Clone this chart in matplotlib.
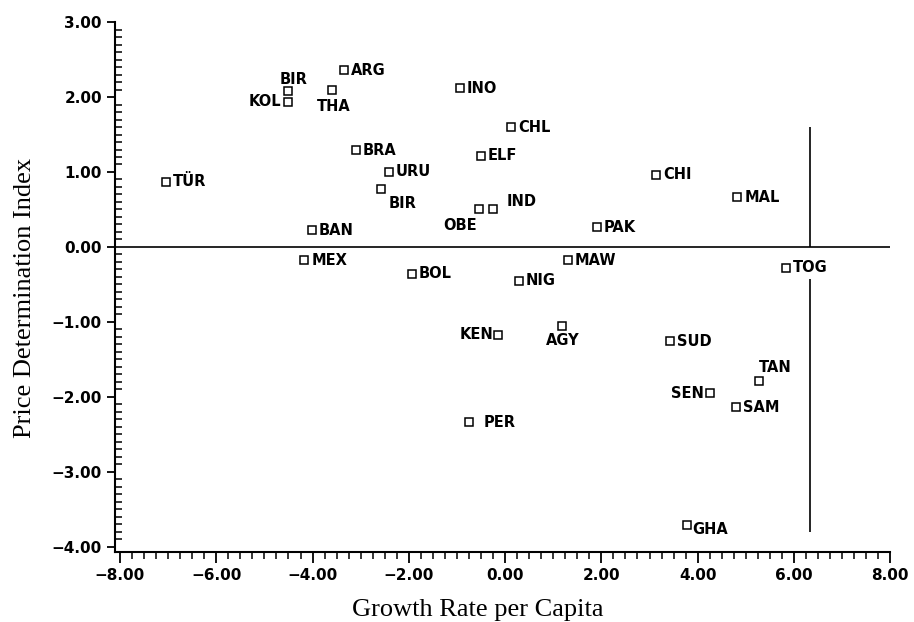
import matplotlib.pyplot as plt
from matplotlib.ticker import MultipleLocator, FuncFormatter

# Laender (Kuerzel) und ihre Werte
countries = ['TÜR', 'KOL', 'BIR', 'THA', 'ARG', 'INO', 'CHL', 'BRA', 'ELF', 'URU',
             'BIR', 'OBE', 'IND', 'BAN', 'CHI', 'MAL', 'PAK', 'MAW', 'NIG', 'TOG',
             'MEX', 'BOL', 'KEN', 'PER', 'AGY', 'SUD', 'TAN', 'SEN', 'SAM', 'GHA']
growth = [-7.05, -4.52, -4.52, -3.59, -3.34, -0.94, 0.12, -3.10, -0.50, -2.42,
          -2.58, -0.55, -0.26, -4.01, 3.13, 4.82, 1.91, 1.30, 0.29, 5.84,
          -4.17, -1.94, -0.14, -0.75, 1.19, 3.42, 5.27, 4.26, 4.80, 3.78]
price_index = [0.87, 1.94, 2.08, 2.09, 2.36, 2.12, 1.60, 1.29, 1.22, 1.00,
               0.77, 0.50, 0.50, 0.22, 0.96, 0.66, 0.26, -0.18, -0.45, -0.28,
               -0.18, -0.36, -1.17, -2.34, -1.06, -1.26, -1.79, -1.95, -2.14, -3.71]

# Trennlinie rechts
split_x = 6.33
split_top = 1.60
split_bottom = -3.80

# Beschriftungsposition (Versatz in Pixel, Ausrichtung) fuer Sonderfaelle
default_place = (7, 0, 'left')
place = {
    1: (-6, 0, 'right'),     # KOL
    2: (-8, 12, 'left'),     # BIR oben
    3: (1, -16, 'center'),   # THA
    10: (8, -14, 'left'),    # BIR unten
    11: (-2, -16, 'right'),  # OBE
    12: (14, 8, 'left'),     # IND
    22: (-5, 0, 'right'),    # KEN
    23: (15, 0, 'left'),     # PER
    24: (0, -14, 'center'),  # AGY
    26: (0, 14, 'left'),     # TAN
    27: (-6, 0, 'right'),    # SEN
    29: (5, -4, 'left'),     # GHA
}


def fmt(v, pos):
    return f'{v:.2f}'.replace('-', '\u2212')


fig = plt.figure(figsize=(9.14, 6.22), dpi=100)
ax = fig.add_axes([0.126, 0.1125, 0.848, 0.852])

ax.plot(growth, price_index, linestyle='none', marker='s', markersize=5.5,
        markerfacecolor='white', markeredgecolor='black', markeredgewidth=1.1)

for i, name in enumerate(countries):
    dx, dy, ha = place.get(i, default_place)
    ax.annotate(name, (growth[i], price_index[i]), xytext=(dx * 0.72, dy * 0.72),
                textcoords='offset points', ha=ha, va='center',
                fontsize=10.5, fontweight='bold', family='DejaVu Sans')

ax.axhline(0, color='black', linewidth=1.2)
ax.vlines(split_x, 0, split_top, color='black', linewidth=1.2)
ax.vlines(split_x, split_bottom, -0.43, color='black', linewidth=1.2)

ax.set_xlim(-8.1, 8.0)
ax.set_ylim(-4.07, 3.0)
ax.spines['top'].set_visible(False)
ax.spines['right'].set_visible(False)
ax.spines['left'].set_linewidth(1.5)
ax.spines['bottom'].set_linewidth(1.5)

ax.xaxis.set_major_locator(MultipleLocator(2))
ax.xaxis.set_minor_locator(MultipleLocator(0.25))
ax.yaxis.set_major_locator(MultipleLocator(1))
ax.yaxis.set_minor_locator(MultipleLocator(0.1))
ax.xaxis.set_major_formatter(FuncFormatter(fmt))
ax.yaxis.set_major_formatter(FuncFormatter(fmt))
ax.tick_params(axis='x', which='major', direction='out', length=8, width=1.3)
ax.tick_params(axis='x', which='minor', direction='out', length=5, width=1.1)
ax.tick_params(axis='y', which='major', direction='out', length=6, width=1.3)
ax.tick_params(axis='y', which='minor', direction='in', length=5, width=1.1)
for lab in ax.get_xticklabels() + ax.get_yticklabels():
    lab.set_fontsize(11)
    lab.set_fontweight('bold')

ax.set_xlabel('Growth Rate per Capita', family='Liberation Serif', fontsize=19)
ax.xaxis.set_label_coords(0.468, -0.088)
ax.set_ylabel('Price Determination Index', family='Liberation Serif', fontsize=19)
ax.yaxis.set_label_coords(-0.102, 0.479)

fig.savefig('out.png', dpi=100)
